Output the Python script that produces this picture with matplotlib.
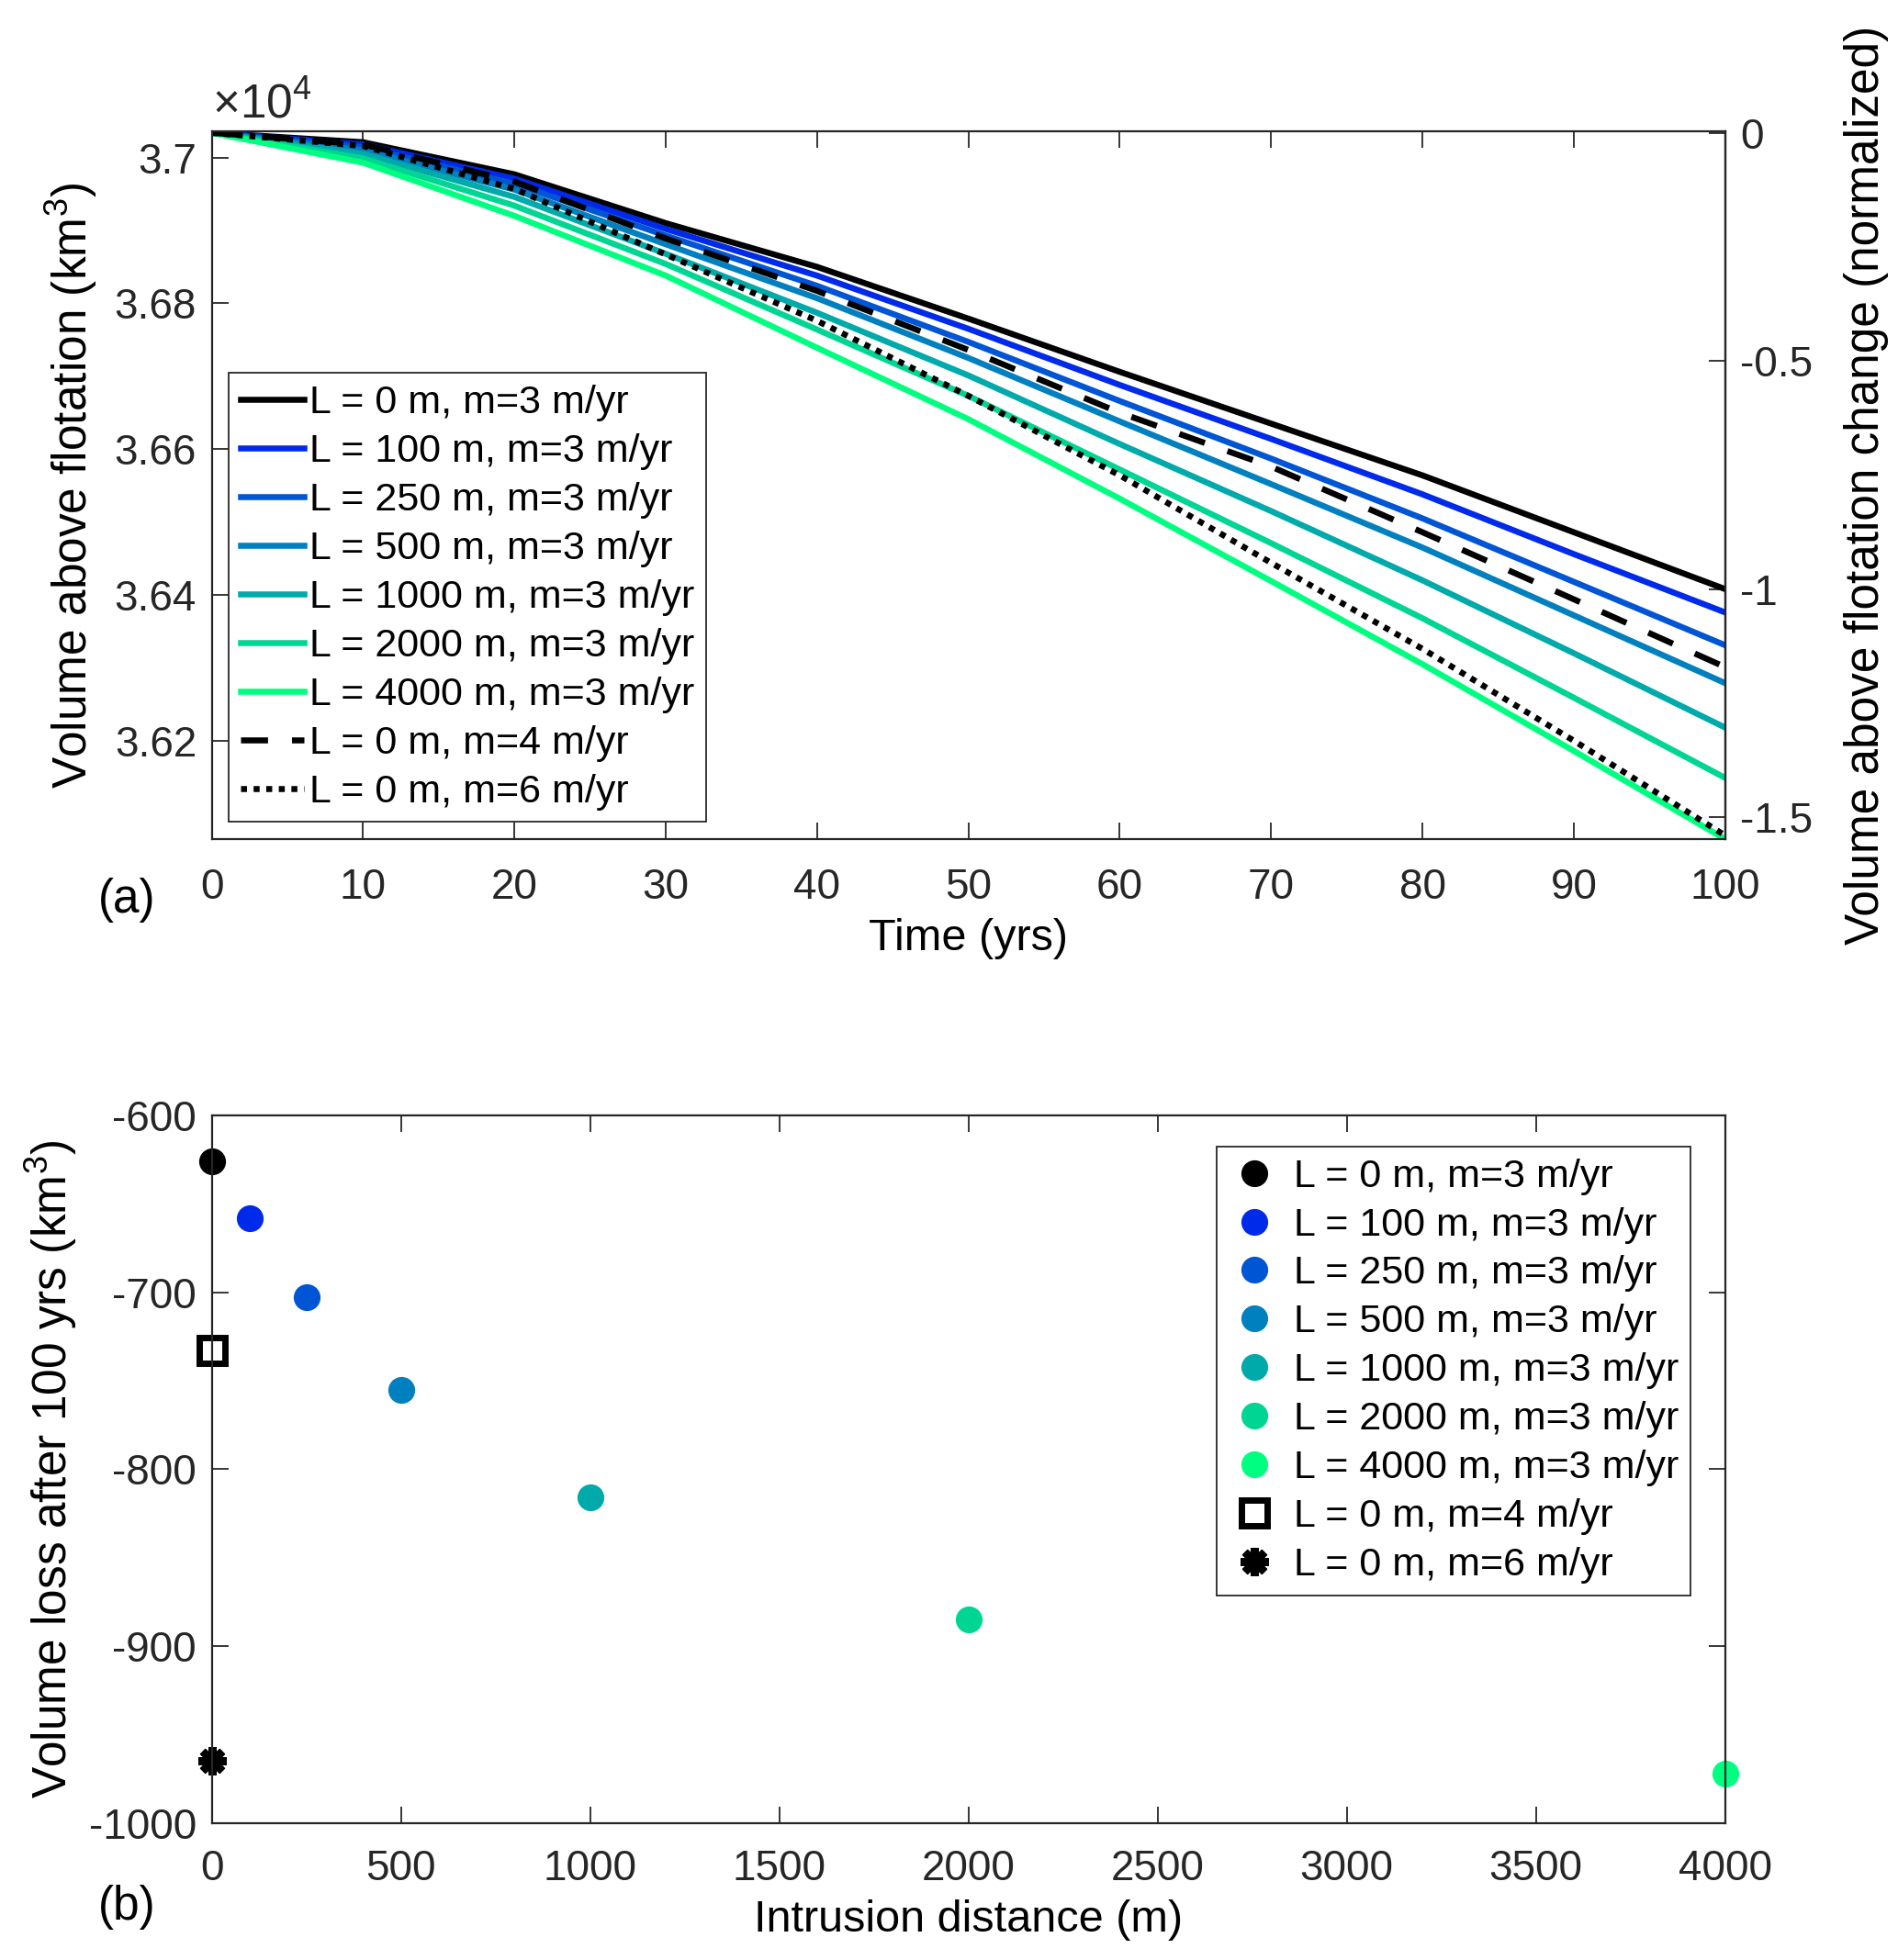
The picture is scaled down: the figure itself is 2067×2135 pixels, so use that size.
import numpy as np
import matplotlib.pyplot as plt
from matplotlib.ticker import FuncFormatter

plt.rcParams['font.family'] = ['Liberation Sans', 'DejaVu Sans']
plt.rcParams['mathtext.fontset'] = 'custom'
plt.rcParams['mathtext.rm'] = 'Liberation Sans'
plt.rcParams['mathtext.it'] = 'Liberation Sans:italic'
plt.rcParams['axes.unicode_minus'] = False
plt.rcParams['font.size'] = 31

# panel (a): volume above flotation, read as loss (km3) from the start value
years = [0, 10, 20, 30, 40, 50, 60, 70, 80, 90, 100]
v_start = 37034
loss_L0 = [0, 13, 57, 124, 184, 255, 328, 399, 470, 548, 626]
loss_L100 = [0, 16, 63, 132, 196, 269, 346, 420, 496, 578, 658]
loss_L250 = [0, 20, 70, 141, 210, 287, 368, 447, 529, 616, 703]
loss_L500 = [0, 24, 78, 153, 227, 309, 396, 482, 569, 662, 755]
loss_L1000 = [0, 29, 88, 166, 247, 333, 427, 519, 614, 714, 816]
loss_L2000 = [0, 35, 100, 180, 270, 361, 462, 563, 666, 775, 885]
loss_L4000 = [0, 41, 114, 196, 295, 393, 502, 615, 729, 848, 969]
loss_m4 = [0, 16, 67, 145, 217, 298, 384, 458, 548, 640, 733]
loss_m6 = [0, 18, 77, 167, 258, 361, 470, 590, 708, 834, 964]

labels = ['L = 0 m, m=3 m/yr', 'L = 100 m, m=3 m/yr', 'L = 250 m, m=3 m/yr',
          'L = 500 m, m=3 m/yr', 'L = 1000 m, m=3 m/yr', 'L = 2000 m, m=3 m/yr',
          'L = 4000 m, m=3 m/yr', 'L = 0 m, m=4 m/yr', 'L = 0 m, m=6 m/yr']

# panel (b): volume change after 100 years
intrusion = [0, 100, 250, 500, 1000, 2000, 4000]
dv_100 = [-626, -658, -703, -755, -816, -885, -972]
dv_m4 = -733
dv_m6 = -965

colors = ['k'] + [plt.cm.winter(i / 6) for i in range(1, 7)]
spine_col = '#262626'
tick_fs = 33
xlab_fs = 35
ylab_fs = 37

fig = plt.figure(figsize=(20.67, 21.35), dpi=100)

def style(ax):
    for s in ax.spines.values():
        s.set_color(spine_col)
        s.set_linewidth(1.6)
    ax.tick_params(direction='in', length=13, width=1.3, colors=spine_col,
                   labelcolor='#262626', labelsize=tick_fs)

# ---- (a)
ax1 = fig.add_axes([0.1116, 0.5719, 0.7973, 0.3611])
series = [loss_L0, loss_L100, loss_L250, loss_L500, loss_L1000, loss_L2000, loss_L4000]
for i, s in enumerate(series):
    ax1.plot(years, v_start - np.array(s), color=colors[i], lw=4.7, label=labels[i])
ax1.plot(years, v_start - np.array(loss_m4), color='k', lw=4.7, dashes=(4.5, 4), label=labels[7])
ax1.plot(years, v_start - np.array(loss_m6), color='k', lw=4.7, dashes=(1, 1.1), label=labels[8])
ax1.set_xlim(0, 100)
ax1.set_ylim(36065, 37036)
ax1.set_xticks(range(0, 101, 10))
ax1.set_yticks([36200, 36400, 36600, 36800, 37000])
ax1.yaxis.set_major_formatter(FuncFormatter(lambda v, p: '%g' % (v / 1e4)))
style(ax1)
ax1.tick_params(top=True, right=False)
ax1.tick_params(axis='x', pad=22)
ax1.tick_params(axis='y', pad=12)
ax1.set_xlabel('Time (yrs)', labelpad=8, fontsize=xlab_fs)
ax1.set_ylabel('Volume above flotation (km$^3$)', labelpad=12, fontsize=ylab_fs)
ax1.text(0, 1.004, '\u00d710$^4$', transform=ax1.transAxes, ha='left', va='bottom',
         color='#262626', fontsize=37)

norm = loss_L0[-1]
sec = ax1.secondary_yaxis('right', functions=(lambda v: (v - v_start) / norm,
                                              lambda n: n * norm + v_start))
sec.set_yticks([0, -0.5, -1, -1.5])
sec.yaxis.set_major_formatter(FuncFormatter(lambda v, p: '%g' % v))
sec.tick_params(direction='in', length=13, width=1.3, colors=spine_col, pad=12,
                labelsize=tick_fs)
sec.spines['right'].set_color(spine_col)
sec.spines['right'].set_linewidth(1.6)
sec.set_ylabel('Volume above flotation change (normalized)', labelpad=24, fontsize=ylab_fs)

leg1 = ax1.legend(loc='lower left', bbox_to_anchor=(0.011, 0.024), handlelength=1.6,
                  handletextpad=0.15, labelspacing=0.30, borderpad=0.3,
                  borderaxespad=0, fancybox=False, framealpha=1)
leg1.get_frame().set_edgecolor(spine_col)
leg1.get_frame().set_linewidth(1.3)

fig.text(138 / 2067, 1 - 980 / 2135, '(a)', ha='center', va='center', fontsize=37)

# ---- (b)
ax2 = fig.add_axes([0.1116, 0.0699, 0.7973, 0.3611])
for i in range(7):
    ax2.plot(intrusion[i], dv_100[i], 'o', color=colors[i], ms=20, label=labels[i],
             clip_on=False)
ax2.plot(0, dv_m4, 's', mfc='white', mec='k', mew=5, ms=20, label=labels[7], clip_on=False)
ax2.plot(0, dv_m6, marker=(8, 2, 0), color='k', mew=6, ms=22, ls='none', label=labels[8],
         clip_on=False)
ax2.set_xlim(0, 4000)
ax2.set_ylim(-1000, -600)
ax2.set_xticks(range(0, 4001, 500))
ax2.set_yticks(range(-1000, -599, 100))
style(ax2)
ax2.tick_params(top=True, right=True)
ax2.tick_params(axis='x', pad=20)
ax2.tick_params(axis='y', pad=12)
ax2.set_xlabel('Intrusion distance (m)', labelpad=8, fontsize=xlab_fs)
ax2.set_ylabel('Volume loss after 100 yrs (km$^3$)', labelpad=8, fontsize=ylab_fs)

leg2 = ax2.legend(loc='upper right', bbox_to_anchor=(0.977, 0.956), handlelength=1.3,
                  handletextpad=0.35, labelspacing=0.30, borderpad=0.3,
                  borderaxespad=0, fancybox=False, framealpha=1, numpoints=1)
leg2.get_frame().set_edgecolor(spine_col)
leg2.get_frame().set_linewidth(1.3)

fig.text(138 / 2067, 1 - 2077 / 2135, '(b)', ha='center', va='center', fontsize=37)

fig.savefig('out.png', dpi=100)
